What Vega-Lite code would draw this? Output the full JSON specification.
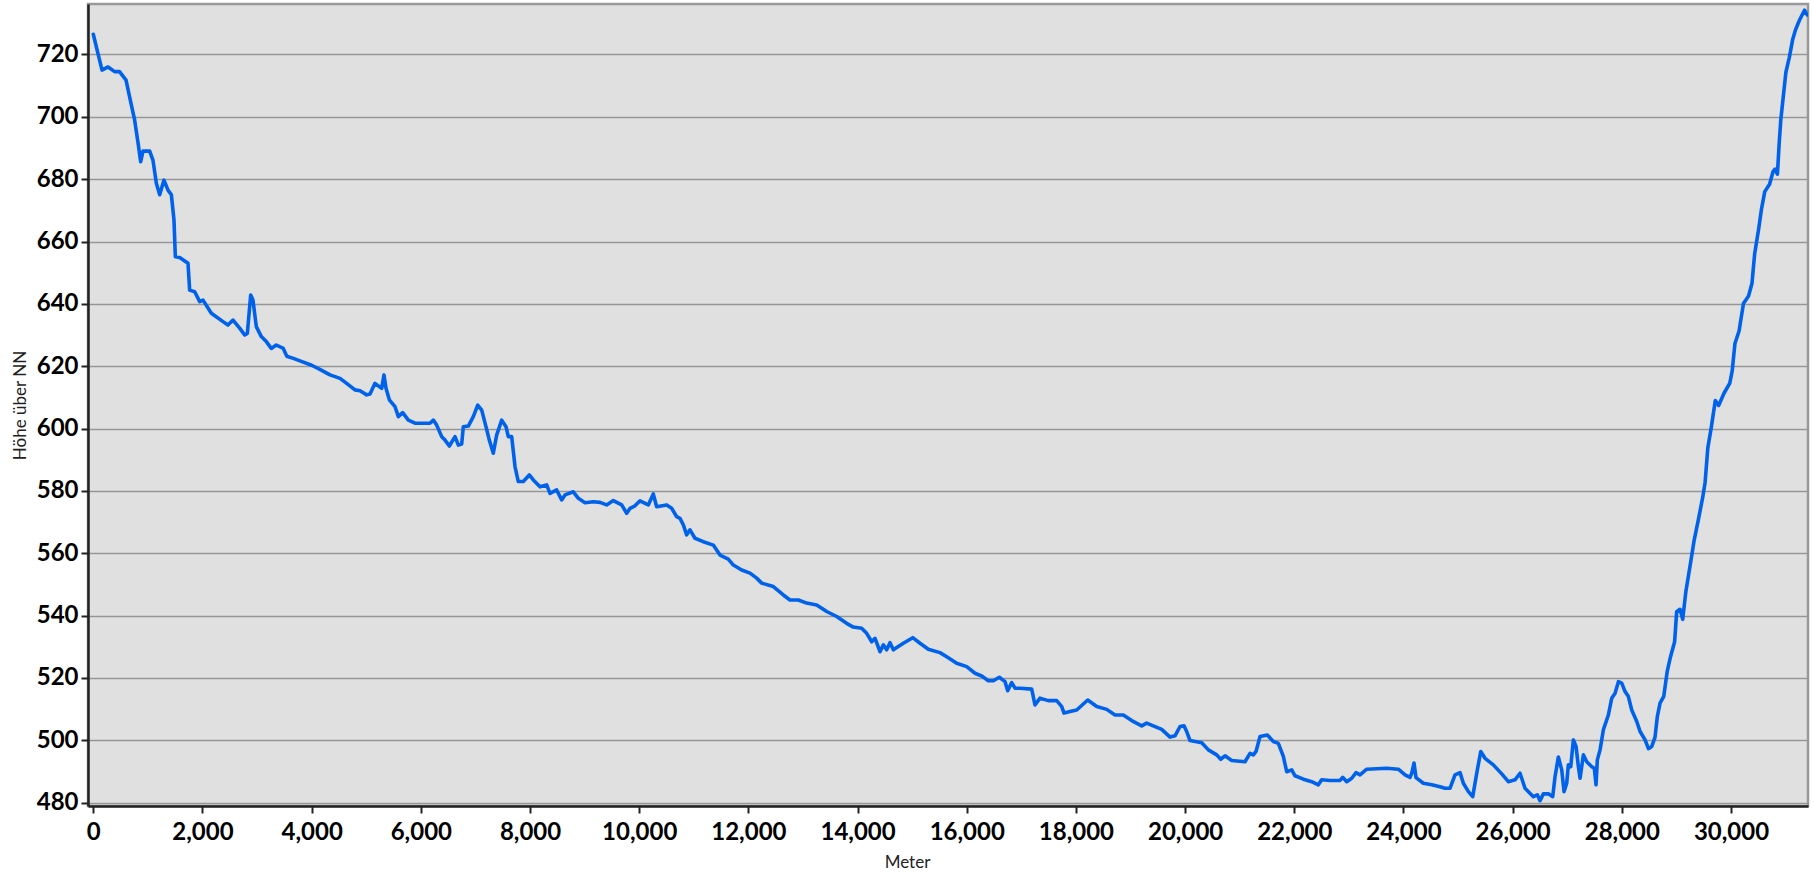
{
  "$schema": "https://vega.github.io/schema/vega-lite/v6.json",
  "autosize": {"type": "none"},
  "width": 1720,
  "height": 802,
  "padding": {"left": 88, "top": 4, "right": 6, "bottom": 67},
  "background": "white",
  "data": {"values": [
    {"m":0,"h":726.5},{"m":86,"h":720.3},{"m":160,"h":715},{"m":270,"h":716},{"m":390,"h":714.5},{"m":480,"h":714.5},{"m":600,"h":711.8},{"m":665,"h":706.4},{"m":757,"h":699},{"m":820,"h":691.6},{"m":868,"h":685.6},{"m":910,"h":689},{"m":1033,"h":689},{"m":1094,"h":686},{"m":1155,"h":678.7},{"m":1216,"h":675},{"m":1295,"h":679.7},{"m":1368,"h":676.5},{"m":1430,"h":675},{"m":1478,"h":666.9},{"m":1503,"h":655.1},{"m":1582,"h":654.9},{"m":1735,"h":653},{"m":1765,"h":644.4},{"m":1857,"h":643.9},{"m":1949,"h":640.7},{"m":2010,"h":641.2},{"m":2162,"h":637},{"m":2376,"h":634.3},{"m":2467,"h":633.2},{"m":2559,"h":634.8},{"m":2681,"h":632.2},{"m":2773,"h":630},{"m":2822,"h":630.5},{"m":2883,"h":642.8},{"m":2925,"h":641.2},{"m":2986,"h":632.7},{"m":3078,"h":629.5},{"m":3169,"h":627.9},{"m":3261,"h":625.7},{"m":3352,"h":626.8},{"m":3480,"h":625.7},{"m":3545,"h":623.2},{"m":3664,"h":622.5},{"m":3786,"h":621.7},{"m":4000,"h":620.3},{"m":4150,"h":619},{"m":4336,"h":617.2},
    {"m":4519,"h":616.1},{"m":4641,"h":614.5},{"m":4794,"h":612.4},{"m":4886,"h":612.1},{"m":5008,"h":610.8},{"m":5069,"h":611.1},{"m":5160,"h":614.5},{"m":5283,"h":612.9},{"m":5325,"h":617.2},{"m":5362,"h":612.9},{"m":5423,"h":609.2},{"m":5527,"h":607},{"m":5588,"h":603.8},{"m":5668,"h":605.1},{"m":5771,"h":602.7},{"m":5893,"h":601.7},{"m":6016,"h":601.7},{"m":6168,"h":601.7},{"m":6229,"h":602.7},{"m":6290,"h":601.1},{"m":6382,"h":597.4},{"m":6443,"h":596.3},{"m":6522,"h":594.4},{"m":6626,"h":597.4},{"m":6687,"h":594.7},{"m":6748,"h":595},{"m":6778,"h":600.6},{"m":6870,"h":600.8},{"m":6961,"h":603.8},{"m":7042,"h":607.5},{"m":7115,"h":605.9},{"m":7193,"h":600.6},{"m":7254,"h":596.3},{"m":7327,"h":592.1},{"m":7389,"h":597.9},{"m":7481,"h":602.7},{"m":7560,"h":600.6},{"m":7602,"h":597.4},{"m":7664,"h":597.4},{"m":7725,"h":587.8},{"m":7785,"h":583},{"m":7877,"h":583},{"m":7987,"h":585.1},{"m":8060,"h":583.5},{"m":8183,"h":581.3},{"m":8305,"h":581.9},{"m":8366,"h":579.2},{"m":8488,"h":580.3},{"m":8580,"h":577.1},{"m":8641,"h":578.7},{"m":8793,"h":579.7},{"m":8885,"h":577.6},{"m":9007,"h":576.2},{"m":9159,"h":576.5},{"m":9282,"h":576.3},{"m":9404,"h":575.5},{"m":9526,"h":576.9},{"m":9679,"h":575.5},{"m":9771,"h":572.8},{"m":9832,"h":574.4},{"m":9923,"h":575.2},{"m":10015,"h":576.8},{"m":10167,"h":575.5},{"m":10258,"h":579},{"m":10320,"h":574.9},{"m":10503,"h":575.5},{"m":10595,"h":574.4},{"m":10687,"h":571.7},{"m":10747,"h":571.2},{"m":10808,"h":569.1},{"m":10870,"h":565.9},{"m":10930,"h":567.5},{"m":11022,"h":564.8},{"m":11174,"h":563.7},{"m":11357,"h":562.6},{"m":11480,"h":559.4},{"m":11632,"h":558.1},{"m":11724,"h":556.2},{"m":11877,"h":554.6},{"m":12030,"h":553.6},{"m":12152,"h":552},{"m":12244,"h":550.4},{"m":12457,"h":549.3},{"m":12640,"h":546.6},{"m":12762,"h":545},{"m":12915,"h":545},{"m":13068,"h":544},{"m":13251,"h":543.4},{"m":13434,"h":541.3},{"m":13617,"h":539.7},{"m":13800,"h":537.5},{"m":13922,"h":536.3},{"m":14075,"h":535.9},{"m":14167,"h":534.3},{"m":14259,"h":531.6},{"m":14320,"h":532.7},{"m":14411,"h":528.4},{"m":14472,"h":530.6},{"m":14533,"h":529},{"m":14594,"h":531.3},{"m":14655,"h":529},{"m":14838,"h":531.1},{"m":15010,"h":532.9},{"m":15144,"h":531.1},{"m":15296,"h":529.2},{"m":15510,"h":528.1},{"m":15633,"h":526.8},{"m":15816,"h":524.7},{"m":15999,"h":523.6},{"m":16151,"h":521.5},{"m":16274,"h":520.6},{"m":16395,"h":519.1},{"m":16487,"h":519.1},{"m":16597,"h":520.2},{"m":16701,"h":518.8},{"m":16750,"h":515.9},{"m":16823,"h":518.5},{"m":16884,"h":516.7},{"m":16976,"h":516.7},{"m":17190,"h":516.4},{"m":17250,"h":511.3},{"m":17342,"h":513.5},{"m":17494,"h":512.7},{"m":17648,"h":512.7},{"m":17740,"h":510.8},{"m":17782,"h":508.7},{"m":17892,"h":509.2},{"m":18014,"h":509.7},{"m":18216,"h":512.9},{"m":18381,"h":510.8},{"m":18564,"h":509.9},{"m":18716,"h":508.1},{"m":18868,"h":508.1},{"m":19022,"h":506.3},{"m":19205,"h":504.6},{"m":19296,"h":505.5},{"m":19571,"h":503.5},{"m":19724,"h":501},{"m":19815,"h":501.4},{"m":19907,"h":504.4},{"m":19980,"h":504.6},{"m":20029,"h":502.8},{"m":20090,"h":499.9},{"m":20304,"h":499.2},{"m":20426,"h":496.9},{"m":20579,"h":495.3},{"m":20652,"h":493.9},{"m":20731,"h":495},{"m":20854,"h":493.5},{"m":21097,"h":493.1},{"m":21189,"h":495.8},{"m":21250,"h":495.3},{"m":21299,"h":496.4},{"m":21372,"h":501.2},{"m":21506,"h":501.7},{"m":21616,"h":499.6},{"m":21708,"h":499},{"m":21799,"h":494.8},{"m":21861,"h":489.9},{"m":21953,"h":490.5},{"m":22013,"h":488.6},{"m":22166,"h":487.5},{"m":22319,"h":486.7},{"m":22440,"h":485.7},{"m":22501,"h":487.3},{"m":22654,"h":487.1},{"m":22837,"h":487.1},{"m":22886,"h":488.1},{"m":22960,"h":486.7},{"m":23052,"h":487.8},{"m":23131,"h":489.6},{"m":23204,"h":488.9},{"m":23327,"h":490.7},{"m":23693,"h":491},{"m":23906,"h":490.7},{"m":24029,"h":488.9},{"m":24120,"h":488.1},{"m":24151,"h":489.4},{"m":24193,"h":492.7},{"m":24230,"h":488},{"m":24364,"h":486.2},{"m":24517,"h":485.7},{"m":24669,"h":485.1},{"m":24761,"h":484.6},{"m":24853,"h":484.6},{"m":24944,"h":488.9},{"m":25036,"h":489.6},{"m":25097,"h":486.2},{"m":25189,"h":483.5},{"m":25268,"h":481.9},{"m":25342,"h":489.4},{"m":25415,"h":496.4},{"m":25494,"h":494.2},{"m":25646,"h":492.1},{"m":25800,"h":489.2},{"m":25921,"h":486.7},{"m":26043,"h":487.3},{"m":26135,"h":489.4},{"m":26226,"h":484.6},{"m":26379,"h":481.9},{"m":26452,"h":482.5},{"m":26501,"h":480.6},{"m":26562,"h":482.8},{"m":26654,"h":482.8},{"m":26734,"h":481.9},{"m":26776,"h":488.3},{"m":26837,"h":494.6},{"m":26899,"h":490.5},{"m":26941,"h":483.5},{"m":26990,"h":486.2},{"m":27020,"h":492.1},{"m":27064,"h":491.5},{"m":27112,"h":500.1},{"m":27161,"h":498},{"m":27204,"h":491.5},{"m":27235,"h":487.8},{"m":27295,"h":495.3},{"m":27357,"h":493.1},{"m":27449,"h":491.5},{"m":27496,"h":491},{"m":27527,"h":485.7},{"m":27551,"h":493.7},{"m":27601,"h":496.9},{"m":27661,"h":503.3},{"m":27753,"h":508.1},{"m":27815,"h":513.5},{"m":27876,"h":515.1},{"m":27937,"h":518.8},{"m":27998,"h":518.3},{"m":28059,"h":515.6},{"m":28120,"h":514},{"m":28181,"h":509.7},{"m":28273,"h":506},{"m":28334,"h":502.8},{"m":28426,"h":500.1},{"m":28487,"h":497.3},{"m":28548,"h":498},{"m":28608,"h":501},{"m":28650,"h":507.6},{"m":28700,"h":511.9},{"m":28768,"h":514.1},{"m":28830,"h":522},{"m":28892,"h":526.8},{"m":28967,"h":531.6},{"m":29004,"h":541.2},{"m":29066,"h":542},{"m":29115,"h":538.8},{"m":29172,"h":547.6},{"m":29253,"h":556.3},{"m":29326,"h":564.3},{"m":29401,"h":570.7},{"m":29481,"h":577.9},{"m":29525,"h":582.7},{"m":29575,"h":593.8},{"m":29637,"h":600.2},{"m":29712,"h":609},{"m":29773,"h":607.4},{"m":29874,"h":611.4},{"m":29978,"h":614.6},{"m":30022,"h":618.6},{"m":30072,"h":627.3},{"m":30147,"h":631.3},{"m":30228,"h":640.1},{"m":30321,"h":642.5},{"m":30383,"h":646.5},{"m":30433,"h":656.1},{"m":30506,"h":664},{"m":30558,"h":670.4},{"m":30618,"h":676},{"m":30706,"h":678.4},{"m":30769,"h":682.4},{"m":30806,"h":683.2},{"m":30850,"h":681.6},{"m":30881,"h":691.2},{"m":30912,"h":699.1},{"m":30956,"h":706.3},{"m":31005,"h":714.3},{"m":31067,"h":719},{"m":31128,"h":724.7},{"m":31179,"h":727.8},{"m":31253,"h":731},{"m":31346,"h":734.2},{"m":31395,"h":732.7}
  ]},
  "mark": {"type": "line", "color": "#0062ea", "strokeWidth": 3.6, "strokeJoin": "round", "strokeCap": "round", "clip": true},
  "encoding": {
    "x": {
      "field": "m", "type": "quantitative",
      "scale": {"domain": [-97, 31410], "nice": false, "zero": false},
      "axis": {
        "title": "Meter",
        "values": [0,2000,4000,6000,8000,10000,12000,14000,16000,18000,20000,22000,24000,26000,28000,30000],
        "format": ",d",
        "grid": false,
        "labelFont": "Lato", "labelFontWeight": "bold", "labelFontSize": 24, "labelColor": "#000",
        "labelPadding": 7, "labelFlush": false, "labelOverlap": false,
        "tickColor": "#222", "tickSize": 7, "tickWidth": 2,
        "domainColor": "#222", "domainWidth": 2.5,
        "titleFont": "Lato", "titleFontSize": 17, "titleFontWeight": "normal", "titleColor": "#222",
        "titleX": 819, "titleY": 56, "titleBaseline": "middle", "titleAlign": "center"
      }
    },
    "y": {
      "field": "h", "type": "quantitative",
      "scale": {"domain": [478.9, 736.2], "nice": false, "zero": false},
      "axis": {
        "title": "Höhe über NN",
        "values": [480,500,520,540,560,580,600,620,640,660,680,700,720],
        "grid": true, "gridColor": "#969696", "gridWidth": 1.5,
        "labelFont": "Lato", "labelFontWeight": "bold", "labelFontSize": 24, "labelColor": "#000",
        "labelPadding": 3, "labelFlush": false, "labelOverlap": false,
        "tickColor": "#222", "tickSize": 7, "tickWidth": 2,
        "domainColor": "#222", "domainWidth": 2.5,
        "titleFont": "Lato", "titleFontSize": 17, "titleFontWeight": "normal", "titleColor": "#222",
        "titleX": -68, "titleY": 401, "titleAngle": -90, "titleBaseline": "middle", "titleAlign": "center"
      }
    }
  },
  "config": {
    "view": {"fill": "#e0e0e0", "stroke": "#999", "strokeWidth": 2.5}
  }
}
